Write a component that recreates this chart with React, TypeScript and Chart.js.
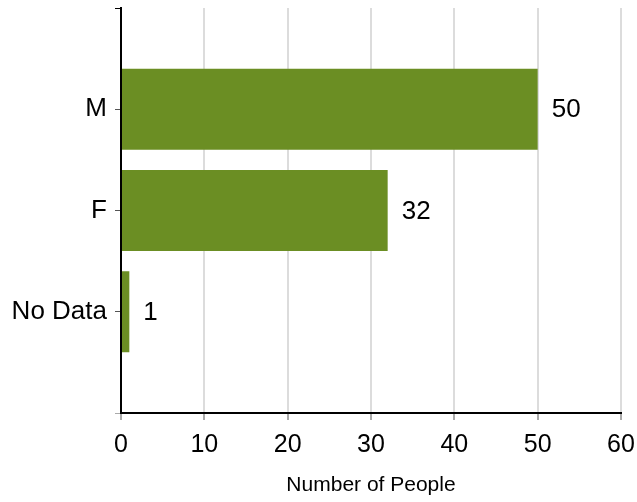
import React, { useEffect, useRef } from "react";
import { Chart, registerables } from "chart.js";

Chart.register(...registerables);

const categories = ["M", "F", "No Data"];
const values = [50, 32, 1];
const xTicks = [0, 10, 20, 30, 40, 50, 60];
const xTitle = "Number of People";

const FONT = "'Liberation Sans', Arial, sans-serif";

const valueLabels = {
  id: "valueLabels",
  afterDatasetsDraw(chart: any) {
    const ctx = chart.ctx;
    const meta = chart.getDatasetMeta(0);
    ctx.save();
    ctx.fillStyle = "#000";
    ctx.font = `26px ${FONT}`;
    ctx.textAlign = "left";
    ctx.textBaseline = "middle";
    meta.data.forEach((el: any, i: number) => {
      const v = chart.data.datasets[0].data[i];
      if (v === null || v === undefined) return;
      ctx.fillText(String(v), el.x + 14, el.y + 1);
    });
    ctx.restore();
  },
};

export default function App() {
  const ref = useRef<HTMLCanvasElement>(null);
  useEffect(() => {
    if (!ref.current) return;
    const labels = ["", ...categories, ""];
    const data = [null, ...values, null];
    const chart = new Chart(ref.current, {
      type: "bar",
      data: {
        labels,
        datasets: [
          {
            data,
            backgroundColor: "#6b8e23",
            barPercentage: 1,
            categoryPercentage: 0.8,
          },
        ],
      },
      options: {
        indexAxis: "y",
        animation: false,
        responsive: false,
        maintainAspectRatio: false,
        layout: { padding: { top: 8, right: 16, left: 0, bottom: 0 } },
        plugins: {
          legend: { display: false },
          tooltip: { enabled: false },
        },
        scales: {
          x: {
            type: "linear",
            min: 0,
            max: 60,
            afterBuildTicks: (s: any) => {
              s.ticks = xTicks.map((v) => ({ value: v }));
            },
            afterFit: (s: any) => {
              s.height = 89;
              s.paddingLeft = 0;
              s.paddingRight = 0;
            },
            grid: {
              color: "#dcdcdc",
              lineWidth: 2,
              tickColor: "#555",
              tickLength: 7,
              tickWidth: 1,
            },
            border: { color: "#000", width: 2 },
            ticks: {
              color: "#000",
              font: { family: FONT, size: 25 },
              padding: 10,
            },
            title: {
              display: true,
              text: xTitle,
              color: "#000",
              font: { family: FONT, size: 21 },
              padding: { top: 0, bottom: 4 },
            },
          },
          y: {
            type: "category",
            offset: false,
            afterFit: (s: any) => {
              s.width = 121;
              s.paddingTop = 0;
              s.paddingBottom = 0;
            },
            grid: {
              offset: false,
              drawOnChartArea: false,
              tickLength: 6,
              tickWidth: 1,
              tickColor: (c: any) =>
                c.index === 0 ? "#000" : c.index === 4 ? "#aaa" : "#555",
            },
            border: { color: "#000", width: 2 },
            ticks: {
              color: "#000",
              font: { family: FONT, size: 26 },
              padding: 8,
              autoSkip: false,
            },
          },
        },
      },
      plugins: [valueLabels],
    });
    return () => chart.destroy();
  }, []);
  return (
    <div style={{ position: "absolute", left: 0, top: 0, width: 637, height: 502 }}>
      <canvas ref={ref} width={637} height={502} style={{ display: "block" }} />
    </div>
  );
}
